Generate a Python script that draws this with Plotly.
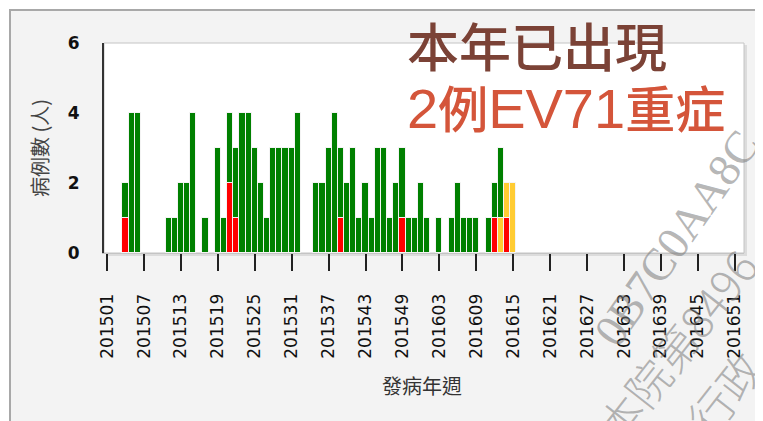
import plotly.graph_objects as go

# ---- axis categories (ISO-style week codes) ----
all_weeks = [f"2015{w:02d}" for w in range(1, 53)] + [f"2016{w:02d}" for w in range(1, 53)]
tick_labels = ["201501", "201507", "201513", "201519", "201525", "201531", "201537",
               "201543", "201549", "201603", "201609", "201615", "201621", "201627",
               "201633", "201639", "201645", "201651"]

# ---- data: weeks 201501 .. 201615 ----
data_weeks = all_weeks[:67]
green = [0, 0, 0, 1, 4, 4, 0, 0, 0, 0, 1, 1, 2, 2, 4, 0, 1, 0, 3, 1,
         2, 2, 4, 4, 3, 2, 1, 3, 3, 3, 3, 4, 0, 0, 2, 2, 3, 4, 2, 2,
         3, 1, 2, 1, 3, 3, 1, 2, 2, 1, 1, 2,
         1, 0, 1, 0, 1, 2, 1, 1, 1, 0, 1, 1, 2, 0, 0]
red = [0, 0, 0, 1, 0, 0, 0, 0, 0, 0, 0, 0, 0, 0, 0, 0, 0, 0, 0, 0,
       2, 1, 0, 0, 0, 0, 0, 0, 0, 0, 0, 0, 0, 0, 0, 0, 0, 0, 1, 0,
       0, 0, 0, 0, 0, 0, 0, 0, 1, 0, 0, 0,
       0, 0, 0, 0, 0, 0, 0, 0, 0, 0, 0, 1, 0, 1, 0]
yellow = [0] * 52 + [0, 0, 0, 0, 0, 0, 0, 0, 0, 0, 0, 0, 1, 1, 2]

title_line1 = "本年已出現"
title_line2_parts = ["2", "例", "EV71", "重症"]
y_title = "病例數 (人)"
x_title = "發病年週"

# page offset of the figure (browser body margin)
OFF = 8
# plot area in page pixels
L, R, T, B = 104, 744, 43, 253
W, H = 763 - OFF, 421 - OFF


def px(x):
    return (x - L) / (R - L)


def py(y):
    return (B - y) / (B - T)


def nz(v):
    return [None if a == 0 else a for a in v]


fig = go.Figure()
for name, vals, col in [("red", red, "#FF0000"), ("yellow", yellow, "#FFCC33"), ("green", green, "#008000")]:
    fig.add_trace(go.Bar(x=data_weeks, y=nz(vals), name=name,
                         marker=dict(color=col, line=dict(color="#f4f4f4", width=1))))

shapes = [
    # outer frame
    dict(type="rect", xref="paper", yref="paper", x0=px(10), x1=px(790), y0=py(440), y1=py(10),
         fillcolor="#f3f3f3", line=dict(color="#a8a8a8", width=2), layer="below"),
    # plot shadow
    dict(type="rect", xref="paper", yref="paper", x0=px(L + 2), x1=px(R + 3), y0=py(B + 3), y1=py(T + 2),
         fillcolor="#dcdcdc", line=dict(width=0), layer="below"),
    dict(type="rect", xref="paper", yref="paper", x0=0, x1=1, y0=0, y1=1,
         fillcolor="white", line=dict(color="#c4c4c4", width=1), layer="below"),
]

latin = "<span style='font-family:Liberation Sans;font-size:56px;font-weight:normal'>{}</span>"
line2 = "".join(latin.format(p) if p.isascii() else p for p in title_line2_parts)

wm = "rgba(120,120,120,0.55)"
annotations = [
    dict(text=title_line1, x=px(405), y=py(45), xref="paper", yref="paper", xanchor="left", yanchor="middle",
         showarrow=False, font=dict(family="Noto Sans CJK TC", size=52, color="#7B4236", weight=500)),
    dict(text=line2, x=px(405), y=py(106), xref="paper", yref="paper", xanchor="left", yanchor="middle",
         showarrow=False, font=dict(family="Noto Sans CJK TC", size=50, color="#D4553A", weight=500)),
    dict(text=y_title, x=px(39), y=0.5, xref="paper", yref="paper", textangle=-90, showarrow=False,
         xanchor="center", yanchor="middle", font=dict(family="Noto Sans CJK TC", size=20, color="#444")),
    dict(text=x_title, x=px(422), y=py(385), xref="paper", yref="paper", showarrow=False,
         xanchor="center", yanchor="middle", font=dict(family="Noto Sans CJK TC", size=20, color="#333")),
    # watermark fragments
    dict(text="0B7C0AA8C", x=px(676), y=py(238), xref="paper", yref="paper", textangle=-55, showarrow=False,
         xanchor="center", yanchor="middle",
         font=dict(family="Liberation Serif", size=46, color=wm)),
    dict(text="本院第8496", x=px(676), y=py(345), xref="paper", yref="paper", textangle=-52, showarrow=False,
         xanchor="center", yanchor="middle",
         font=dict(family="Noto Sans CJK TC", size=44, color=wm, weight=300)),
    dict(text="行政", x=px(724), y=py(392), xref="paper", yref="paper", textangle=-52, showarrow=False,
         xanchor="center", yanchor="middle",
         font=dict(family="Noto Sans CJK TC", size=44, color=wm, weight=300)),
]

fig.update_layout(
    width=W, height=H, barmode="stack", bargap=0.0, showlegend=False,
    margin=dict(l=L - OFF, r=W - (R - OFF), t=T - OFF, b=H - (B - OFF), pad=0),
    paper_bgcolor="white", plot_bgcolor="rgba(0,0,0,0)",
    shapes=shapes, annotations=annotations,
    xaxis=dict(type="category", categoryorder="array", categoryarray=all_weeks,
               range=[-0.5, 103.5], tickmode="array", tickvals=tick_labels, ticktext=tick_labels,
               tickangle=-90, ticks="outside", ticklen=17, tickwidth=2, tickcolor="#222",
               ticklabelstandoff=16, showline=True, linecolor="#c4c4c4", linewidth=1,
               showgrid=False, zeroline=False,
               tickfont=dict(family="DejaVu Sans", size=17, color="#111")),
    yaxis=dict(range=[0, 6], tickvals=[0, 2, 4, 6], showgrid=False, zeroline=False,
               showline=True, linecolor="#333", linewidth=2, ticks="", ticklabelstandoff=19,
               tickfont=dict(family="DejaVu Sans", size=17, color="#111", weight="bold")),
)

fig.write_html("out.html")
